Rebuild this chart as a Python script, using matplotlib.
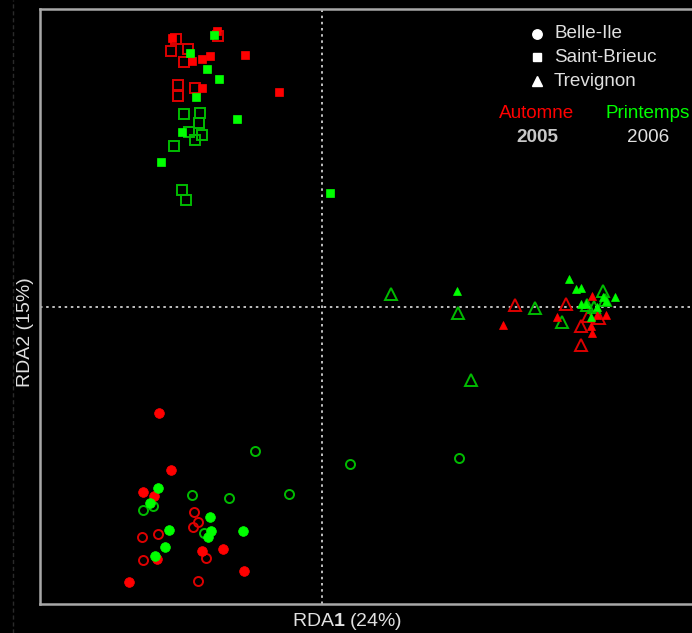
import matplotlib
matplotlib.use("Agg")
import matplotlib.pyplot as plt
from matplotlib.lines import Line2D

plt.rcParams['font.family'] = ['Liberation Sans', 'DejaVu Sans']
plt.rcParams['mathtext.fontset'] = 'custom'
plt.rcParams['mathtext.rm'] = 'Liberation Sans'
plt.rcParams['mathtext.bf'] = 'Liberation Sans:bold'

# Saint-Brieuc (squares)
sb_aut_fill_x = [-1.50, -1.05, -1.12, -1.20, -1.30, -0.77, -1.20, -0.43]
sb_aut_fill_y = [2.69, 2.76, 2.51, 2.48, 2.46, 2.52, 2.19, 2.15]
sb_aut_open_x = [-1.46, -1.51, -1.34, -1.38, -1.04, -1.44, -1.44, -1.27]
sb_aut_open_y = [2.68, 2.56, 2.58, 2.45, 2.71, 2.22, 2.11, 2.19]
sb_spr_fill_x = [-1.08, -1.32, -1.15, -1.03, -1.26, -0.85, -1.40, -1.61, 0.08]
sb_spr_fill_y = [2.72, 2.54, 2.38, 2.28, 2.10, 1.88, 1.75, 1.45, 1.14]
sb_spr_open_x = [-1.38, -1.22, -1.23, -1.33, -1.20, -1.27, -1.48, -1.40, -1.36]
sb_spr_open_y = [1.93, 1.94, 1.84, 1.75, 1.72, 1.67, 1.61, 1.17, 1.07]

# Trevignon (triangles)
tr_aut_fill_x = [1.82, 2.36, 2.71, 2.70, 2.71, 2.76, 2.85]
tr_aut_fill_y = [-0.18, -0.10, 0.11, -0.19, -0.26, -0.08, -0.08]
tr_aut_open_x = [1.94, 2.45, 2.60, 2.60, 2.67, 2.78]
tr_aut_open_y = [0.02, 0.03, -0.19, -0.38, -0.09, -0.11]
tr_spr_fill_x = [1.36, 2.48, 2.55, 2.60, 2.94, 2.60, 2.65, 2.76, 2.70, 2.82, 2.85]
tr_spr_fill_y = [0.16, 0.28, 0.18, 0.19, 0.10, 0.03, 0.03, 0.00, -0.10, 0.10, 0.06]
tr_spr_open_x = [0.70, 1.37, 2.14, 2.41, 1.50, 2.82, 2.84, 2.66, 2.73]
tr_spr_open_y = [0.13, -0.06, -0.01, -0.15, -0.73, 0.16, 0.07, 0.02, 0.00]

# Belle-Ile (circles)
bi_aut_fill_x = [-1.63, -1.51, -1.79, -1.68, -1.65, -1.20, -0.99, -0.78, -1.93]
bi_aut_fill_y = [-1.06, -1.63, -1.85, -1.89, -2.52, -2.44, -2.42, -2.64, -2.75]
bi_aut_open_x = [-1.28, -1.24, -1.29, -1.80, -1.64, -1.79, -1.16, -1.24]
bi_aut_open_y = [-2.05, -2.15, -2.20, -2.30, -2.27, -2.53, -2.51, -2.74]
bi_spr_fill_x = [-1.64, -1.72, -1.53, -1.57, -1.67, -1.12, -1.11, -1.14, -0.79]
bi_spr_fill_y = [-1.81, -1.96, -2.23, -2.40, -2.49, -2.10, -2.24, -2.30, -2.24]
bi_spr_open_x = [-1.30, -1.79, -1.69, -1.18, -0.93, -0.67, -0.33, 0.29, 1.38]
bi_spr_open_y = [-1.88, -2.03, -1.99, -2.26, -1.91, -1.44, -1.87, -1.57, -1.51]

site_labels = ['Belle-Ile', 'Saint-Brieuc', 'Trevignon']
season_labels = ['Automne', 'Printemps']
year_labels = ['2005', '2006']

RED = '#FF0000'
GREEN = '#00FF00'
RED_OPEN = '#DD0000'
GREEN_OPEN = '#00BB00'

fig = plt.figure(figsize=(6.92, 6.33), dpi=100, facecolor='black')
ax = fig.add_axes([40/692, 29/633, 1 - 40/692 + 0.01, 595/633])
ax.set_facecolor('black')
ax.set_xlim(-2.82, 3.78)
ax.set_ylim(-2.97, 2.98)

ax.axvline(0, color='#E0E0E0', ls=(0, (1.5, 2.2)), lw=1.2, zorder=1)
ax.axhline(0, color='#E0E0E0', ls=(0, (1.5, 2.2)), lw=1.2, zorder=1)

def filled(x, y, m, c, ms):
    ax.plot(x, y, ls='none', marker=m, ms=ms, mfc=c, mec=c, mew=0.5, zorder=3)

def hollow(x, y, m, c, ms):
    ax.plot(x, y, ls='none', marker=m, ms=ms, mfc='none', mec=c, mew=1.4, zorder=2)

hollow(sb_aut_open_x, sb_aut_open_y, 's', RED_OPEN, 6.6)
hollow(sb_spr_open_x, sb_spr_open_y, 's', GREEN_OPEN, 6.6)
filled(sb_aut_fill_x, sb_aut_fill_y, 's', RED, 5.4)
filled(sb_spr_fill_x, sb_spr_fill_y, 's', GREEN, 5.4)

hollow(tr_aut_open_x, tr_aut_open_y, '^', RED_OPEN, 8.5)
hollow(tr_spr_open_x, tr_spr_open_y, '^', GREEN_OPEN, 8.5)
filled(tr_aut_fill_x, tr_aut_fill_y, '^', RED, 6.3)
filled(tr_spr_fill_x, tr_spr_fill_y, '^', GREEN, 6.3)

hollow(bi_aut_open_x, bi_aut_open_y, 'o', RED_OPEN, 6.5)
hollow(bi_spr_open_x, bi_spr_open_y, 'o', GREEN_OPEN, 6.5)
filled(bi_aut_fill_x, bi_aut_fill_y, 'o', RED, 7.0)
filled(bi_spr_fill_x, bi_spr_fill_y, 'o', GREEN, 7.0)

for s in ['left', 'top', 'bottom']:
    ax.spines[s].set_color('#A8A8A8')
    ax.spines[s].set_linewidth(1.8)
ax.spines['right'].set_visible(False)
ax.set_xticks([])
ax.set_yticks([])

# legend
def fx(px):
    return px / 692
def fy(py):
    return 1 - py / 633

TXT = '#E0E0E0'
FS = 13.6
leg_markers = ['o', 's', '^']
leg_ms = [6.8, 5.2, 6.5]
leg_y = [34, 57, 81]
for lab, m, ms, yy in zip(site_labels, leg_markers, leg_ms, leg_y):
    fig.add_artist(Line2D([fx(537)], [fy(yy)], marker=m, ms=ms, color='white', ls='none'))
    fig.text(fx(554), fy(yy), lab, color=TXT, fontsize=FS, va='center', ha='left')

fig.text(fx(537), fy(114), season_labels[0], color=RED, fontsize=FS, ha='center', va='center')
fig.text(fx(648), fy(114), season_labels[1], color=GREEN, fontsize=FS, ha='center', va='center')
fig.text(fx(537), fy(137), year_labels[0], color='#C8C8C8', fontsize=FS, ha='center', va='center',
         fontweight='bold')
fig.text(fx(648), fy(137), year_labels[1], color=TXT, fontsize=FS, ha='center', va='center')

fig.text(fx(347), fy(621), r'RDA$\mathbf{1}$ (24%)', color=TXT, fontsize=14, ha='center', va='center')
fig.text(fx(25), fy(332), 'RDA2 (15%)', color=TXT, fontsize=14, ha='center', va='center', rotation=90)

fig.add_artist(Line2D([fx(13), fx(13)], [0, 1], color='#2A2A2A', lw=1, ls=(0, (3, 2))))

fig.savefig('out.png', dpi=100, facecolor='black')
